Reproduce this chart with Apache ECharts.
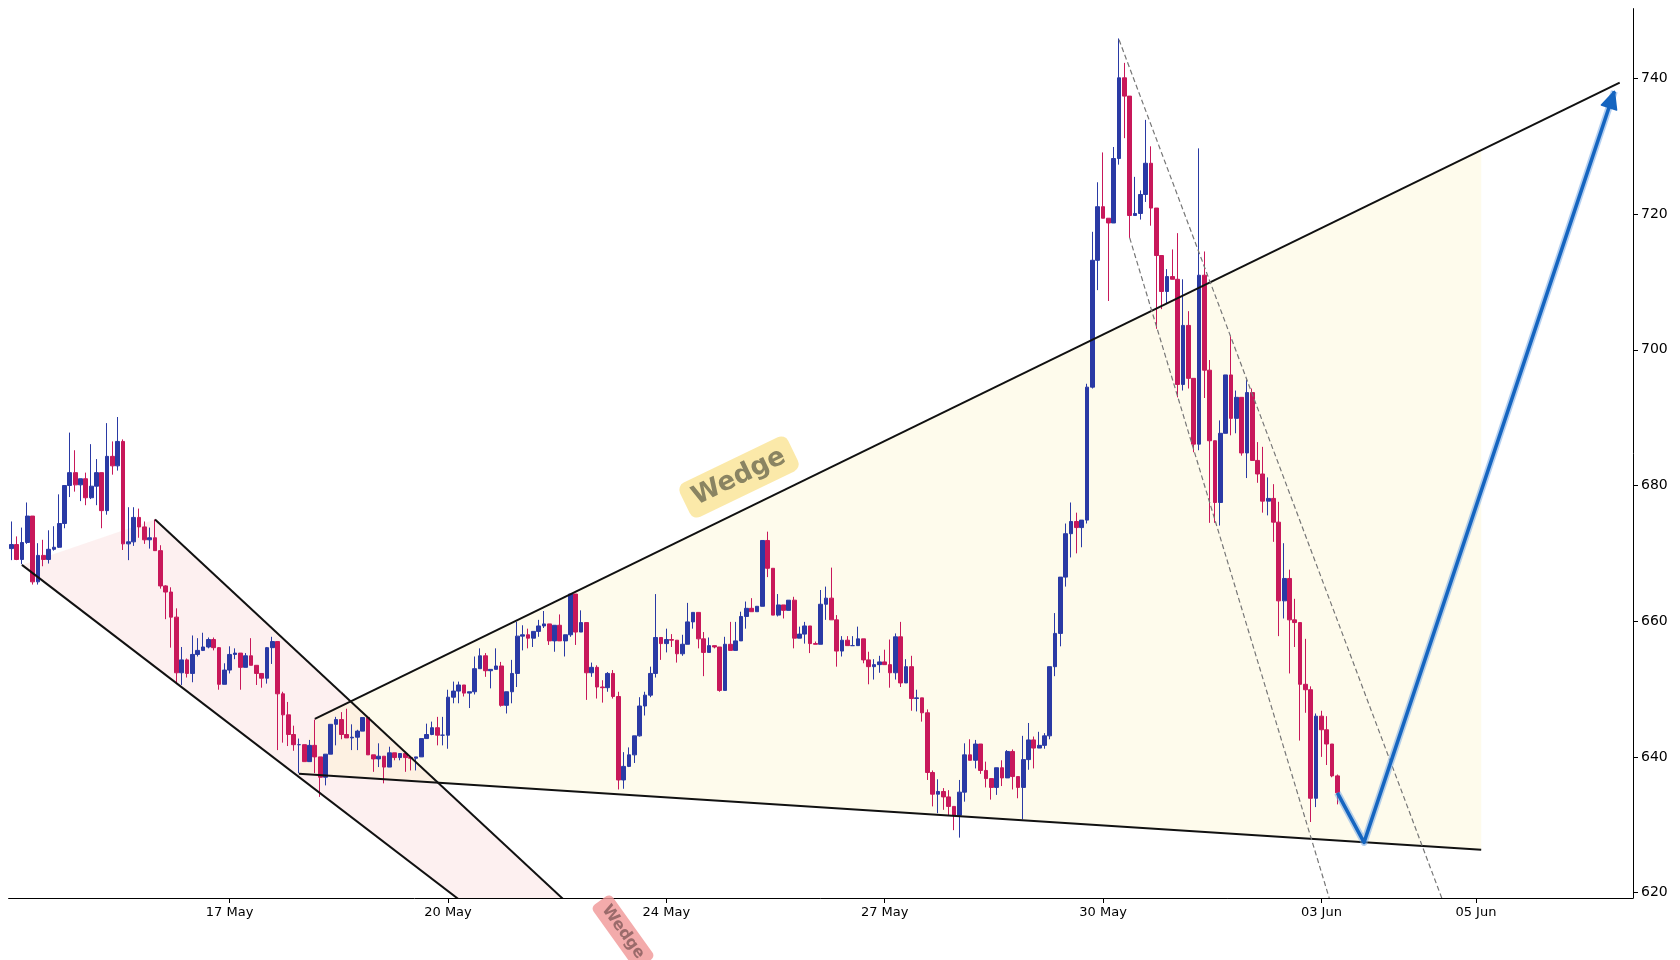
<!DOCTYPE html>
<html><head><meta charset="utf-8">
<script src="https://cdn.jsdelivr.net/npm/echarts@6/dist/echarts.min.js"></script>
<style>html,body{margin:0;padding:0;background:#fff}#c{width:1680px;height:960px}</style>
</head><body><div id="c"></div>
<script>
const firstOpen = 670.7;
const closes = [
671.3,669.1,671.6,675.5,665.8,669.7,669.1,670.6,670.9,674.4,
680.0,681.9,680.1,681.0,678.2,679.9,681.9,676.3,684.3,682.9,
686.5,671.4,671.7,675.3,673.9,672.0,672.3,670.4,665.2,664.3,
660.6,652.4,654.3,652.3,655.1,655.7,656.2,657.3,656.1,650.7,
652.8,655.1,655.3,653.2,654.9,653.5,652.3,651.6,656.1,657.0,
649.3,646.2,643.3,641.8,641.8,639.3,641.7,640.0,637.0,640.4,
644.8,645.5,643.3,642.8,642.9,643.8,645.8,640.3,639.7,640.1,
638.5,640.6,639.9,640.5,639.9,639.8,640.0,642.7,643.3,644.3,
643.2,643.2,648.8,649.7,650.6,649.4,649.6,653.0,654.9,652.7,
652.9,653.4,647.6,649.6,652.3,657.8,658.0,657.5,658.5,659.3,
659.6,657.1,659.4,657.1,658.0,664.0,658.4,659.8,652.4,653.2,
650.3,650.2,652.3,648.9,636.6,638.6,640.3,643.1,647.5,649.1,
652.3,657.6,656.7,657.3,657.2,655.2,656.6,659.9,661.3,657.4,
655.4,656.4,656.2,649.8,656.6,655.7,657.1,660.7,661.9,661.4,
662.2,671.9,667.8,660.9,662.4,661.6,663.1,657.5,658.1,659.3,
656.7,656.6,662.5,663.4,660.2,655.6,657.2,656.4,656.4,657.4,
654.3,653.3,653.6,654.0,653.6,652.4,657.7,650.9,653.3,648.6,
648.7,646.5,637.7,634.5,634.9,634.1,632.7,631.4,634.8,640.3,
639.5,641.9,638.0,636.8,635.5,638.4,636.9,640.8,637.1,635.5,
639.6,642.5,641.3,641.7,643.1,653.3,658.2,666.5,672.9,674.7,
673.8,674.9,694.5,713.2,721.1,719.4,718.7,728.2,740.1,737.4,
719.8,720.1,722.9,727.5,720.9,713.9,708.6,710.8,710.4,694.9,
703.6,695.8,686.1,711.0,697.0,686.6,677.5,687.7,696.3,689.9,
693.0,684.8,693.7,683.7,681.7,677.7,678.1,674.6,663.0,666.3,
660.2,659.8,650.7,649.9,633.9,646.0,644.0,641.9,637.2,634.7];
const highs = [
674.7,672.5,673.8,677.5,675.5,671.5,672.0,673.4,674.0,678.7,
680.0,687.8,685.2,681.0,681.9,686.1,683.9,681.9,689.2,686.5,
690.1,686.8,676.8,676.8,676.6,674.7,673.8,675.0,671.2,665.3,
665.0,661.9,656.2,654.5,657.9,657.5,658.3,657.6,657.6,656.2,
653.8,656.3,656.0,655.3,655.3,657.5,653.5,652.3,656.2,657.7,
657.0,649.6,648.1,644.6,642.7,641.8,642.5,645.5,640.0,640.4,
644.8,645.9,646.6,647.1,644.8,644.0,645.8,645.8,640.3,642.0,
640.1,641.5,640.6,640.5,640.5,640.0,640.0,642.7,644.9,645.2,
645.9,645.9,649.9,651.1,651.1,650.6,649.6,654.8,656.0,655.3,
652.9,656.0,654.0,649.6,654.3,659.9,659.4,658.9,658.5,660.2,
661.5,659.6,659.4,661.0,658.0,664.0,664.0,661.6,659.8,653.9,
653.5,651.3,652.5,652.8,649.6,640.7,641.4,643.1,648.8,649.6,
653.3,664.0,657.6,658.9,658.1,657.2,658.0,662.7,661.3,661.3,
658.4,657.6,656.4,656.2,657.7,659.9,659.9,661.4,662.9,663.4,
662.2,671.9,673.2,667.8,664.0,662.4,663.1,663.6,659.2,659.9,
659.3,657.0,664.6,665.1,667.9,660.9,657.8,657.8,657.8,659.2,
657.4,655.5,654.4,654.9,655.8,657.3,658.2,659.9,654.4,654.9,
649.9,648.7,647.0,638.0,636.7,635.4,635.1,632.7,636.6,642.0,
642.6,642.5,641.9,639.3,636.8,638.4,639.5,641.0,641.1,637.1,
643.1,645.0,643.0,643.7,643.5,653.3,661.2,666.5,674.4,677.5,
676.0,674.9,695.0,717.4,724.7,729.1,719.4,729.9,745.9,742.3,
737.4,725.5,723.5,733.9,730.0,720.9,713.9,711.9,714.8,717.2,
710.4,705.7,695.8,729.7,714.5,698.5,686.6,689.6,696.3,702.0,
694.0,693.0,695.6,694.3,686.4,685.7,681.2,680.2,677.6,671.5,
667.6,663.3,659.8,657.4,650.4,646.4,646.8,646.0,641.9,637.4];
const lows = [
669.0,669.0,668.4,671.4,665.4,665.4,668.1,668.5,670.4,670.8,
673.7,678.3,679.1,677.7,677.1,678.0,677.1,673.7,675.7,681.6,
682.2,670.5,669.0,671.1,672.3,671.4,670.7,670.4,664.8,660.3,
656.1,650.9,650.6,651.7,651.0,654.8,655.6,656.0,655.7,649.9,
650.7,652.3,654.4,649.9,653.2,653.5,650.6,650.2,650.8,653.7,
641.0,642.1,641.6,640.9,637.6,639.3,639.3,637.6,634.1,635.8,
640.4,641.7,642.6,642.8,641.0,641.0,643.8,640.3,637.8,638.5,
636.1,638.5,639.5,639.5,637.8,638.0,638.0,640.0,642.7,643.2,
641.7,641.7,641.2,647.9,647.9,648.9,647.2,649.2,653.0,651.8,
650.1,653.4,647.4,646.4,647.9,650.3,655.7,656.0,656.2,657.7,
659.0,656.5,655.5,657.1,654.8,657.7,656.5,658.4,648.4,651.8,
648.6,648.0,649.6,648.6,635.2,635.3,638.5,639.1,643.0,646.1,
648.8,651.7,654.3,655.4,656.2,653.9,654.9,656.6,658.9,656.0,
651.9,655.4,656.0,649.6,649.9,655.7,655.7,657.1,658.9,661.4,
661.4,662.2,666.5,660.9,660.7,660.4,661.6,656.0,657.5,656.7,
655.3,656.6,656.6,660.2,660.2,653.3,654.8,656.4,656.4,656.4,
653.8,650.7,651.4,652.4,653.6,650.2,651.4,650.3,650.9,646.8,
646.7,645.2,636.6,632.7,631.7,632.2,631.4,629.2,628.1,633.4,
639.5,638.3,637.5,635.5,633.7,634.4,635.7,636.9,635.2,633.9,
630.8,638.1,638.3,641.3,641.2,642.6,651.9,656.3,665.1,669.4,
670.0,670.9,674.4,694.3,708.8,719.4,707.2,718.7,727.3,731.2,
716.5,719.8,719.2,721.8,718.3,703.1,706.0,706.9,710.4,693.0,
694.0,694.3,684.9,685.2,692.9,674.5,674.5,674.1,687.7,687.4,
687.7,684.4,681.1,683.7,680.4,676.0,675.6,671.7,657.8,660.4,
652.3,656.2,642.4,646.5,630.4,632.6,640.0,638.8,637.0,633.0];
const categoryCount = 305;
const tickIndex = [41, 82, 123, 164, 205, 246, 275];
const tickLabels = ['17 May', '20 May', '24 May', '27 May', '30 May', '03 Jun', '05 Jun'];
// pattern anchor points [category index, price]
const channelFill = [[1.9,668.3],[27.0,675.0],[116,610],[99,610]];
const channelUpper = [[27.0,675.0],[116,610]];
const channelLower = [[1.9,668.3],[99,610]];
const wedgeFill = [[56.9,645.6],[276.3,729.4],[276.3,626.3],[53.8,637.5]];
const wedgeUpper = [[56.9,645.6],[302.4,739.4]];
const wedgeLower = [[53.8,637.5],[276.3,626.3]];
const dashA = [[207.5,745.7],[272.6,610]];
const dashB = [[209.5,716.5],[251.3,610]];
const projection = [[248.6,634.7],[253.6,627.4],[301.4,738.1]];

const categories = [];
for (let i = 0; i < categoryCount; i++) {
  const k = tickIndex.indexOf(i);
  categories.push(k >= 0 ? tickLabels[k] : 'c' + i);
}
const candles = closes.map((c, i) => {
  const o = i === 0 ? firstOpen : closes[i - 1];
  return [o, c, Math.min(lows[i], o, c), Math.max(highs[i], o, c)];
});

function shape(pts, kind, style) {
  return {
    type: 'custom', clip: true, silent: true, z: kind === 'polygon' ? 1 : 5,
    data: [0],
    renderItem: function (params, api) {
      const p = pts.map(q => api.coord(q));
      if (kind === 'polygon') return {type: 'polygon', shape: {points: p}, style: style};
      return {type: 'polyline', shape: {points: p}, style: Object.assign({fill: null}, style)};
    }
  };
}
const arrowSeries = {
  type: 'custom', clip: false, silent: true, z: 8, data: [0],
  renderItem: function (params, api) {
    const p = projection.map(q => api.coord(q));
    const a = p[p.length - 2], b = p[p.length - 1];
    const ang = Math.atan2(b[1] - a[1], b[0] - a[0]);
    const L = 17, W = 8;
    const bx = b[0] - L * Math.cos(ang), by = b[1] - L * Math.sin(ang);
    const tri = [b, [bx + W * Math.sin(ang), by - W * Math.cos(ang)], [bx - W * Math.sin(ang), by + W * Math.cos(ang)]];
    return {type: 'group', children: [
      {type: 'polyline', shape: {points: p}, style: {fill: null, stroke: 'rgba(120,170,230,0.55)', lineWidth: 7, lineJoin: 'round'}},
      {type: 'polyline', shape: {points: p}, style: {fill: null, stroke: '#1565c0', lineWidth: 3.5, lineJoin: 'round'}},
      {type: 'polygon', shape: {points: tri}, style: {fill: '#1565c0', stroke: '#1565c0', lineWidth: 1.5, lineJoin: 'round'}}
    ]};
  }
};

const chart = echarts.init(document.getElementById('c'));
chart.setOption({
  animation: false,
  backgroundColor: '#fff',
  grid: {left: 8.6, right: 47, top: 8.6, bottom: 62},
  xAxis: {
    type: 'category', data: categories, boundaryGap: true,
    axisLine: {show: true, lineStyle: {color: '#000', width: 1}},
    axisTick: {show: true, alignWithLabel: true, interval: (i) => tickIndex.includes(i), lineStyle: {color: '#000'}, length: 5},
    axisLabel: {interval: (i) => tickIndex.includes(i), color: '#000', fontSize: 13, fontFamily: 'DejaVu Sans', margin: 8},
    splitLine: {show: false}
  },
  yAxis: {
    type: 'value', position: 'right', min: 619.2, max: 750.3, splitNumber: 7, scale: true,
    axisLine: {show: true, lineStyle: {color: '#000', width: 1}},
    axisTick: {show: true, lineStyle: {color: '#000'}, length: 5},
    axisLabel: {color: '#000', fontSize: 14, fontFamily: 'DejaVu Sans', showMinLabel: false, showMaxLabel: false, margin: 8},
    splitLine: {show: false}
  },
  graphic: [
    {type: 'text', x: 739, y: 477, rotation: 0.45, z: 100,
      style: {text: 'Wedge', font: 'bold 26px DejaVu Sans', fill: '#8a8462', align: 'center', verticalAlign: 'middle',
        backgroundColor: 'rgba(250,225,140,0.75)', padding: [6, 10], borderRadius: 8}},
    {type: 'text', x: 623, y: 932, rotation: -0.95, z: 100,
      style: {text: 'Wedge', font: 'bold 16px DejaVu Sans', fill: '#9b6b6b', align: 'center', verticalAlign: 'middle',
        backgroundColor: 'rgba(240,150,150,0.8)', padding: [4, 8], borderRadius: 5}}
  ],
  series: [
    shape(channelFill, 'polygon', {fill: 'rgba(248,195,195,0.25)'}),
    shape(wedgeFill, 'polygon', {fill: 'rgba(253,243,200,0.35)'}),
    {
      type: 'candlestick', data: candles, barWidth: 4.2, z: 3,
      itemStyle: {color: '#2a3aa5', color0: '#c8185a', borderColor: '#2a3aa5', borderColor0: '#c8185a', borderWidth: 1}
    },
    shape(channelUpper, 'line', {stroke: '#111', lineWidth: 2}),
    shape(channelLower, 'line', {stroke: '#111', lineWidth: 2}),
    shape(wedgeUpper, 'line', {stroke: '#111', lineWidth: 2}),
    shape(wedgeLower, 'line', {stroke: '#111', lineWidth: 2}),
    shape(dashA, 'line', {stroke: '#777', lineWidth: 1.2, lineDash: [5, 3]}),
    shape(dashB, 'line', {stroke: '#777', lineWidth: 1.2, lineDash: [5, 3]}),
    arrowSeries
  ]
});
</script></body></html>
